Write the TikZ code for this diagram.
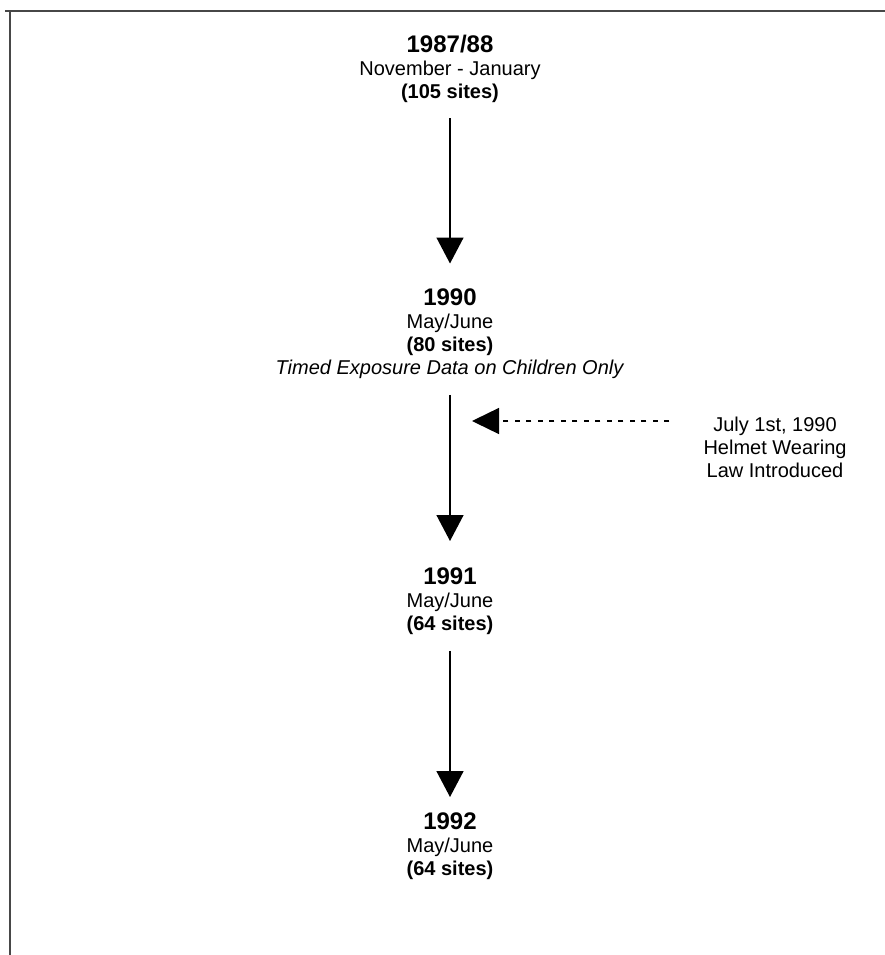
\documentclass[tikz,border=0pt]{standalone}
\usepackage{fontspec}
\setmainfont{Liberation Sans}
\usetikzlibrary{arrows.meta}

\begin{document}
\begin{tikzpicture}[x=1pt, y=-1pt,
    survey/.style={align=center, anchor=north, inner sep=0pt,
                   font=\fontsize{20}{23}\selectfont},
    flow/.style={line width=1.5pt, -{Triangle[length=26pt,width=27pt]},
                 shorten <=16pt, shorten >=25pt},
    lawarrow/.style={line width=1.4pt, dash pattern=on 5pt off 6.5pt,
                     -{Triangle[length=27pt,width=26pt]}, shorten <=34pt}]
    \useasboundingbox (0,0) rectangle (885,955);
    % frame (top and left only)
    \draw[black!72, line width=2pt] (5,11.5) -- (885,11.5);
    \draw[black!72, line width=2pt] (9.5,11.5) -- (9.5,955);

    \newcommand{\yr}[1]{{\fontsize{24}{23}\selectfont\bfseries #1}}

    \node[survey] (s8788) at (450,34.5) {\yr{1987/88}\\November - January\\\textbf{(105 sites)}};
    \node[survey] (s1990) at (450,288.5) {\yr{1990}\\May/June\\\textbf{(80 sites)}\\\textit{Timed Exposure Data on Children Only}};
    \node[survey] (s1991) at (450,567.5) {\yr{1991}\\May/June\\\textbf{(64 sites)}};
    \node[survey] (s1992) at (450,812.5) {\yr{1992}\\May/June\\\textbf{(64 sites)}};

    \draw[flow] (s8788.south) -- (s1990.north);
    \draw[flow, shorten >=26.5pt] (s1990.south) -- (s1991.north);
    \draw[flow, shorten >=15.5pt] (s1991.south) -- (s1992.north);

    % helmet law
    \node[survey] (law) at (775,417) {July 1st, 1990\\Helmet Wearing\\Law Introduced};
    \coordinate (hit) at (472,421);
    \draw[lawarrow] (law.west |- hit) -- (hit);
\end{tikzpicture}
\end{document}
